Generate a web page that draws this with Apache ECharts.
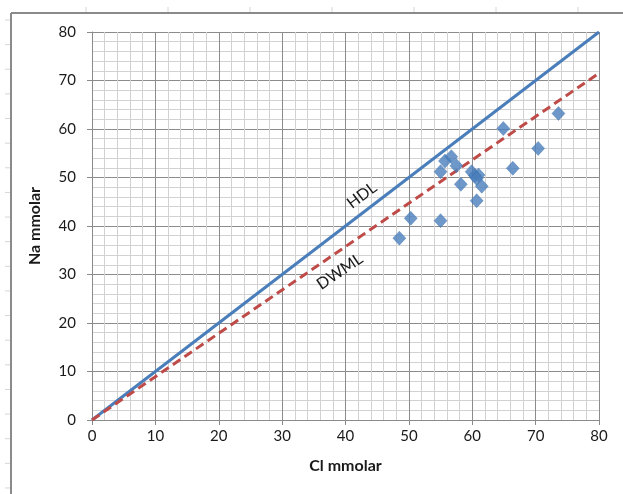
<!DOCTYPE html>
<html>
<head>
<meta charset="utf-8">
<script src="https://cdn.jsdelivr.net/npm/echarts@6/dist/echarts.min.js"></script>
<style>
  html, body { margin: 0; padding: 0; background: #fff; }
  #chart { width: 623px; height: 494px; }
</style>
</head>
<body>
<div id="chart"></div>
<script>
// Measured samples: chloride (x) vs sodium (y), mmol/L
const clValues = [48.5, 50.3, 55.0, 55.0, 55.7, 56.7, 57.5, 58.2, 59.9, 60.4, 61.0, 60.7, 61.5, 60.7, 64.9, 66.4, 70.4, 73.6];
const naValues = [37.5, 41.6, 41.1, 51.2, 53.4, 54.3, 52.4, 48.6, 51.2, 50.4, 50.5, 49.8, 48.2, 45.2, 60.1, 51.9, 56.0, 63.2];

// Reference lines (start and end values)
const hdlLine = [[0, 0], [80, 80]];
const dwmlLine = [[0, 0], [80, 71.5]];

const axisTicks = [0, 10, 20, 30, 40, 50, 60, 70, 80];

const points = clValues.map((c, i) => [c, naValues[i]]);

const chart = echarts.init(document.getElementById('chart'), null, { renderer: 'canvas' });

const labelFont = 'Lato, "Liberation Sans", sans-serif';

function axisCommon(name) {
  return {
    type: 'value',
    min: axisTicks[0],
    max: axisTicks[axisTicks.length - 1],
    interval: axisTicks[1] - axisTicks[0],
    name: name,
    nameLocation: 'middle',
    nameTextStyle: { fontFamily: labelFont, fontWeight: 'bold', fontSize: 16, color: '#1a1a1a' },
    axisLine: { show: true, lineStyle: { color: '#8a8a8a', width: 1 } },
    axisTick: { show: true, length: 5, lineStyle: { color: '#8a8a8a' } },
    axisLabel: { fontFamily: labelFont, fontSize: 15, color: '#1a1a1a' },
    splitLine: { show: true, lineStyle: { color: '#8c8c8c', width: 1 } },
    minorTick: { show: false, splitNumber: 5 },
    minorSplitLine: { show: true, lineStyle: { color: '#d2d2d2', width: 1 } }
  };
}

// Decorative sheet frame with its small outer ticks
const frame = [
  { type: 'line', shape: { x1: 11, y1: 13, x2: 11, y2: 494 }, style: { stroke: '#8a8a8a', lineWidth: 2 } },
  { type: 'line', shape: { x1: 11, y1: 13, x2: 623, y2: 13 }, style: { stroke: '#8a8a8a', lineWidth: 2 } }
];
for (let x = 86; x < 623; x += 82) {
  frame.push({ type: 'line', shape: { x1: x, y1: 7, x2: x, y2: 12 }, style: { stroke: '#d6d6d6', lineWidth: 1 } });
}
for (let y = 20; y < 494; y += 24.63) {
  frame.push({ type: 'line', shape: { x1: 5, y1: y, x2: 10, y2: y }, style: { stroke: '#d6d6d6', lineWidth: 1 } });
}

chart.setOption({
  animation: false,
  backgroundColor: '#ffffff',
  grid: { left: 92, top: 32, right: 24, bottom: 74, containLabel: false },
  xAxis: Object.assign(axisCommon('Cl mmolar'), {
    nameGap: 38,
    axisLabel: { fontFamily: labelFont, fontSize: 15, color: '#1a1a1a', margin: 9 }
  }),
  yAxis: Object.assign(axisCommon('Na mmolar'), {
    nameGap: 49,
    axisLabel: { fontFamily: labelFont, fontSize: 15, color: '#1a1a1a', margin: 16 }
  }),
  graphic: frame,
  series: [
    {
      name: 'HDL',
      type: 'line',
      data: hdlLine,
      symbol: 'none',
      lineStyle: { color: '#4a7ebb', width: 3 },
      z: 3,
      markPoint: {
        symbol: 'circle',
        symbolSize: 0,
        data: [{ coord: [42.6, 46.3] }],
        label: {
          show: true, formatter: 'HDL', position: 'inside', rotate: 37,
          fontFamily: labelFont, fontSize: 16, color: '#1a1a1a'
        }
      }
    },
    {
      name: 'DWML',
      type: 'line',
      data: dwmlLine,
      symbol: 'none',
      lineStyle: { color: '#be4b48', width: 3, type: [9, 5] },
      z: 3,
      markPoint: {
        symbol: 'circle',
        symbolSize: 0,
        data: [{ coord: [39.1, 30.6] }],
        label: {
          show: true, formatter: 'DWML', position: 'inside', rotate: 34,
          fontFamily: labelFont, fontSize: 16, color: '#1a1a1a'
        }
      }
    },
    {
      name: 'Samples',
      type: 'scatter',
      data: points,
      symbol: 'diamond',
      symbolSize: [13, 14],
      itemStyle: { color: '#4a7ebb', borderColor: '#3f72ad', borderWidth: 0.5 },
      z: 4
    }
  ]
});
</script>
</body>
</html>
